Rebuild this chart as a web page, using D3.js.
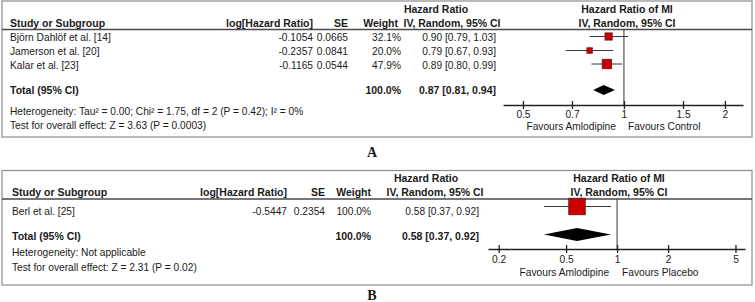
<!DOCTYPE html>
<html><head><meta charset="utf-8">
<script src="https://cdn.jsdelivr.net/npm/d3@7"></script>
<style>
body{margin:0;background:#fff}
text{font-family:"Liberation Sans",Arial,sans-serif;fill:#1a1a1a;font-size:10.2px}
text.b{font-size:10.5px;font-weight:bold}
</style>
</head><body><svg id="c" width="755" height="302"></svg>
<script>
// ---- Panel A data ----
const studiesA = ["Björn Dahlöf et al. [14]", "Jamerson et al. [20]", "Kalar et al. [23]"];
const logHRA = ["-0.1054", "-0.2357", "-0.1165"];
const seA = ["0.0665", "0.0841", "0.0544"];
const weightA = [32.1, 20.0, 47.9];
const hrA = [0.90, 0.79, 0.89];
const lowerA = [0.79, 0.67, 0.80];
const upperA = [1.03, 0.93, 0.99];
const totalA = [0.87, 0.81, 0.94];
const ticksA = [0.5, 0.7, 1, 1.5, 2];
const hetA = "Heterogeneity: Tau² = 0.00; Chi² = 1.75, df = 2 (P = 0.42); I² = 0%";
const testA = "Test for overall effect: Z = 3.63 (P = 0.0003)";
const favoursA = ["Favours Amlodipine", "Favours Control"];

// ---- Panel B data ----
const studiesB = ["Berl et al. [25]"];
const logHRB = ["-0.5447"];
const seB = ["0.2354"];
const weightB = [100.0];
const hrB = [0.58];
const lowerB = [0.37];
const upperB = [0.92];
const totalB = [0.58, 0.37, 0.92];
const ticksB = [0.2, 0.5, 1, 2, 5];
const hetB = "Heterogeneity: Not applicable";
const testB = "Test for overall effect: Z = 2.31 (P = 0.02)";
const favoursB = ["Favours Amlodipine", "Favours Placebo"];

const svg = d3.select("#c");
const f2 = d3.format(".2f");

function panel(d, L) {
  const g = svg.append("g");
  g.append("rect").attr("x", L.box[0]).attr("y", L.box[1]).attr("width", L.box[2]).attr("height", L.box[3])
    .attr("fill", "none").attr("stroke", "#8c8c8c").attr("stroke-width", 1.2);
  g.append("line").attr("x1", L.box[0]).attr("x2", L.box[0] + L.box[2]).attr("y1", L.hline).attr("y2", L.hline)
    .attr("stroke", "#4a4a4a").attr("stroke-width", 1.5);
  const T = (x, y, s, anchor, bold) => g.append("text").attr("x", x).attr("y", y).attr("dy", "0.35em")
    .attr("text-anchor", anchor || "start").attr("class", bold ? "b" : null).text(s);
  // headers
  T(L.cStudy, L.h2, "Study or Subgroup", "start", true);
  T(L.cLog, L.h2, "log[Hazard Ratio]", "end", true);
  T(L.cSE, L.h2, "SE", "end", true);
  T(L.cWh, L.h2, "Weight", "end", true);
  T(L.cHRh1, L.h1, "Hazard Ratio", "middle", true);
  T(L.cHRh2, L.h2, "IV, Random, 95% CI", "middle", true);
  T(L.cF, L.h1, "Hazard Ratio of MI", "middle", true);
  T(L.cF, L.h2, "IV, Random, 95% CI", "middle", true);

  const x = d3.scaleLog().domain(L.domain).range(L.range);
  const size = d3.scaleLinear().domain([0, 100]).range(L.sizeRange);

  d.studies.forEach((s, i) => {
    const y = L.rowY[i];
    T(L.cStudy, y, s);
    T(L.cLog, y, d.logHR[i], "end");
    T(L.cSE, y, d.se[i], "end");
    T(L.cW, y, d3.format(".1f")(d.weight[i]) + "%", "end");
    T(L.cHR, y, f2(d.hr[i]) + " [" + f2(d.lo[i]) + ", " + f2(d.hi[i]) + "]", "end");
    const ym = L.markY[i];
    g.append("line").attr("x1", x(d.lo[i])).attr("x2", x(d.hi[i])).attr("y1", ym).attr("y2", ym)
      .attr("stroke", "#3a3a3a").attr("stroke-width", 1);
    const sz = size(d.weight[i]);
    g.append("rect").attr("x", x(d.hr[i]) - sz / 2).attr("y", ym - sz / 2).attr("width", sz).attr("height", sz)
      .attr("fill", "#cc0000").attr("stroke", "#5a1a1a").attr("stroke-width", 0.8);
  });
  // total
  T(L.cStudy, L.totY, "Total (95% CI)", "start", true);
  T(L.cW, L.totY, "100.0%", "end", true);
  T(L.cHR, L.totY, f2(d.total[0]) + " [" + f2(d.total[1]) + ", " + f2(d.total[2]) + "]", "end", true);
  const dy = L.diaY, dh = L.diaH / 2;
  g.append("path").attr("d", `M${x(d.total[1])},${dy}L${x(d.total[0])},${dy - dh}L${x(d.total[2])},${dy}L${x(d.total[0])},${dy + dh}Z`)
    .attr("fill", "#000");
  T(L.cStudy, L.hetY, d.het);
  T(L.cStudy, L.testY, d.test);

  // null line
  g.append("line").attr("x1", x(1)).attr("x2", x(1)).attr("y1", L.hline).attr("y2", L.axisY)
    .attr("stroke", "#333").attr("stroke-width", 1);
  // axis
  const ax = g.append("g").attr("transform", `translate(0,${L.axisY})`)
    .call(d3.axisBottom(x).tickValues(d.ticks).tickFormat(v => String(v)).tickSizeOuter(0));
  ax.select(".domain").attr("stroke", "#222").attr("stroke-width", 1.4);
  ax.selectAll(".tick line").attr("y1", -4).attr("y2", 4).attr("stroke", "#222").attr("stroke-width", 1.3);
  ax.selectAll(".tick text").attr("y", L.tickLabY - L.axisY).attr("dy", "0.35em")
    .attr("font-family", null).attr("font-size", null).style("fill", "#1a1a1a");
  T(x(1) + L.favGap[0], L.favY, d.favours[0], "end");
  T(x(1) + L.favGap[1], L.favY, d.favours[1], "start");
  svg.append("text").attr("x", 372).attr("y", L.label[1]).attr("dy", "0.35em").attr("text-anchor", "middle")
    .style("font-family", "'Liberation Serif','Times New Roman',serif").style("font-size", "14px")
    .attr("font-weight", "bold").text(L.label[0]);
}

panel({studies: studiesA, logHR: logHRA, se: seA, weight: weightA, hr: hrA, lo: lowerA, hi: upperA,
       total: totalA, ticks: ticksA, het: hetA, test: testA, favours: favoursA},
  {box: [2, 1, 750, 136], hline: 29.5, h1: 9, h2: 23, cStudy: 10, cLog: 313, cSE: 348, cW: 401, cWh: 398,
   cHR: 496, cHRh1: 436, cHRh2: 452, cF: 627, rowY: [37, 51, 65], markY: [36.5, 50.5, 64],
   totY: 90, diaY: 90, diaH: 10, hetY: 111, testY: 125, domain: [0.436, 2.264], range: [503, 743],
   sizeRange: [2.6, 16.9], axisY: 105, tickLabY: 114, favY: 126, favGap: [-8, 4], label: ["A", 152]});

panel({studies: studiesB, logHR: logHRB, se: seB, weight: weightB, hr: hrB, lo: lowerB, hi: upperB,
       total: totalB, ticks: ticksB, het: hetB, test: testB, favours: favoursB},
  {box: [2, 170.5, 750, 114.5], hline: 199, h1: 178, h2: 192, cStudy: 12, cLog: 287, cSE: 325, cW: 371, cWh: 371,
   cHR: 479, cHRh1: 426, cHRh2: 435, cF: 619, rowY: [211], markY: [206.5],
   totY: 236, diaY: 234.5, diaH: 13, hetY: 252, testY: 267, domain: [0.173, 5.69], range: [488, 745],
   sizeRange: [0, 16.5], axisY: 249, tickLabY: 259, favY: 272, favGap: [-8, 5], label: ["B", 295]});
</script></body></html>
